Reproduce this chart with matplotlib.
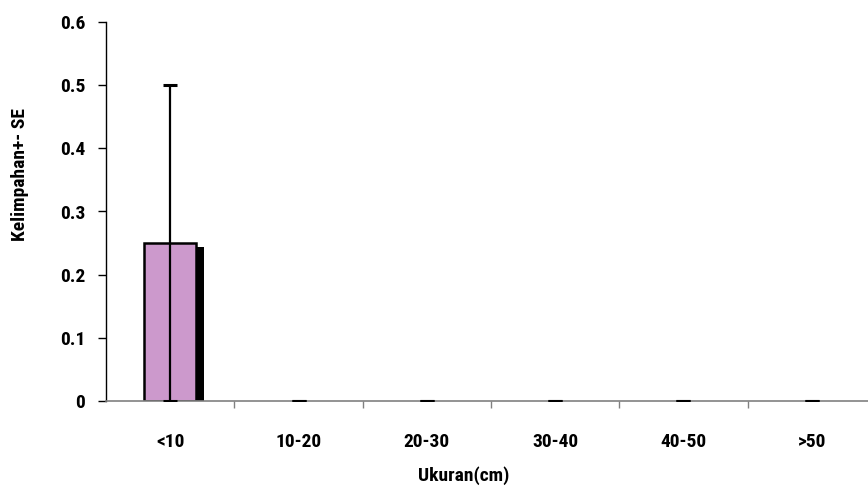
import numpy as np
import matplotlib.pyplot as plt

sizes = ['<10', '10-20', '20-30', '30-40', '40-50', '>50']
abundance = [0.25, 0, 0, 0, 0, 0]
se = [0.25, 0, 0, 0, 0, 0]

plt.rcParams['font.family'] = ['Roboto Condensed', 'DejaVu Sans']
plt.rcParams['font.weight'] = 'bold'

fig = plt.figure(figsize=(8.68, 4.9), dpi=100)
ax = fig.add_axes([106 / 868, 1 - 401 / 490, 770 / 868, 379 / 490])

x = np.arange(len(sizes))
h = np.array(abundance)
w = 0.41
nz = h > 0

# drop shadow behind the bars, then the bars themselves
ax.bar(x[nz] + 0.055, h[nz] - 0.006, width=w, color='black', zorder=1)
ax.bar(x[nz], h[nz], width=w, color='#CC99CC', edgecolor='black', linewidth=1.8, zorder=2)
ax.errorbar(x, h, yerr=se, fmt='none', ecolor='black', elinewidth=1.6,
            capsize=5, capthick=2.2, zorder=3)

ax.set_xlim(-0.5, 5.5)
ax.set_ylim(0, 0.6)
ax.set_yticks([0, 0.1, 0.2, 0.3, 0.4, 0.5, 0.6])
ax.set_yticklabels(['0', '0.1', '0.2', '0.3', '0.4', '0.5', '0.6'])
ax.set_xticks(x)
ax.set_xticklabels(sizes)
ax.set_xticks(np.arange(0.5, 5.5, 1), minor=True)

ax.tick_params(axis='x', which='major', length=0, pad=23, labelsize=14)
ax.tick_params(axis='x', which='minor', length=5, color='#808080', width=1)
ax.tick_params(axis='y', length=6, width=1, labelsize=14, pad=9)

for s in ['top', 'right']:
    ax.spines[s].set_visible(False)
ax.spines['bottom'].set_color('#808080')
ax.spines['bottom'].set_linewidth(1.2)
ax.spines['left'].set_linewidth(1)

ax.set_xlabel('Ukuran(cm)', fontsize=14, fontweight='bold')
ax.set_ylabel('Kelimpahan+- SE', fontsize=14, fontweight='bold')
ax.xaxis.set_label_coords(0.464, -0.172)
ax.yaxis.set_label_coords(-0.1, 0.598)

fig.savefig('out.png', dpi=100)
